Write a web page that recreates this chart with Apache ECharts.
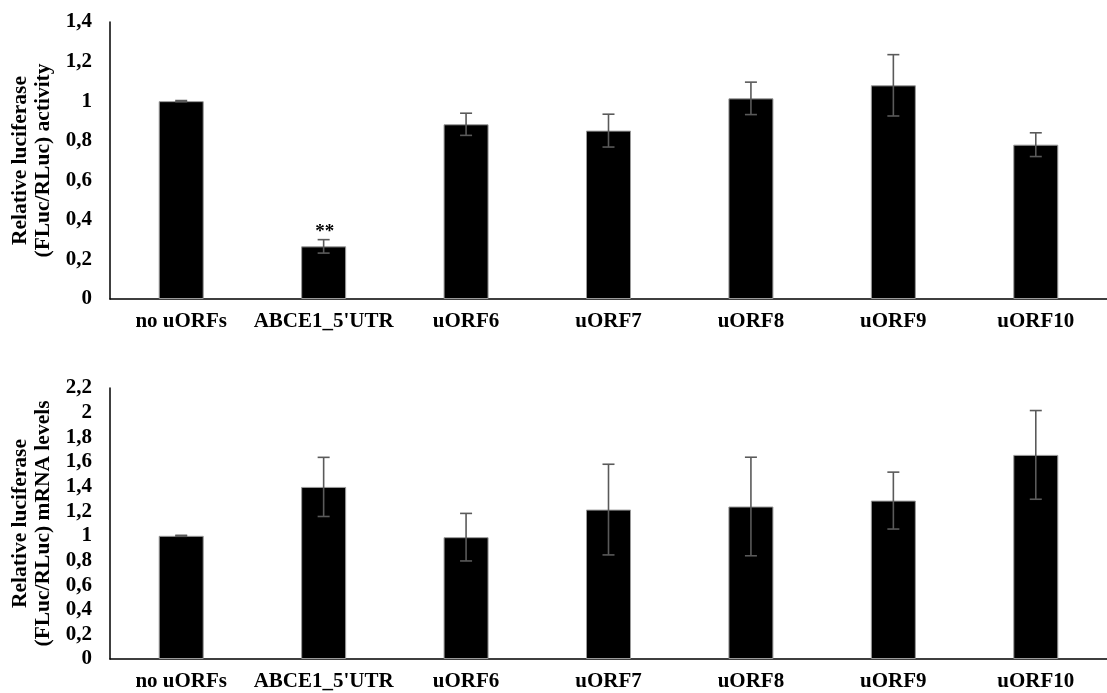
<!DOCTYPE html>
<html>
<head>
<meta charset="utf-8">
<script src="https://cdn.jsdelivr.net/npm/echarts@6/dist/echarts.min.js"></script>
<style>
html,body{margin:0;padding:0;background:#fff;}
#c{width:1107px;height:693px;}
</style>
</head>
<body>
<div id="c"></div>
<script>
var categories = ['no uORFs', "ABCE1_5'UTR", 'uORF6', 'uORF7', 'uORF8', 'uORF9', 'uORF10'];
var activity = [1.0, 0.266, 0.883, 0.851, 1.014, 1.080, 0.780];
var activityErr = [0.003, 0.034, 0.056, 0.083, 0.082, 0.155, 0.060];
var activitySig = ['', '**', '', '', '', '', ''];
var mrna = [1.0, 1.397, 0.989, 1.213, 1.238, 1.286, 1.657];
var mrnaErr = [0.004, 0.240, 0.193, 0.368, 0.400, 0.231, 0.360];
var mrnaSig = ['', '', '', '', '', '', ''];
var topTitle = 'Relative luciferase\n(FLuc/RLuc) activity';
var bottomTitle = 'Relative luciferase\n(FLuc/RLuc) mRNA levels';

var FONT = '"Liberation Serif", "Times New Roman", serif';

function errData(vals, errs, sig) {
  return vals.map(function (v, i) { return [i, v - errs[i], v + errs[i], sig[i]]; });
}

function errRender(params, api) {
  var x = api.value(0);
  var lo = api.coord([x, api.value(1)]);
  var hi = api.coord([x, api.value(2)]);
  var half = 6;
  var style = { stroke: '#5a5a5a', lineWidth: 1.6 };
  var children = [
    { type: 'line', shape: { x1: lo[0], y1: lo[1], x2: hi[0], y2: hi[1] }, style: style },
    { type: 'line', shape: { x1: hi[0] - half, y1: hi[1], x2: hi[0] + half, y2: hi[1] }, style: style },
    { type: 'line', shape: { x1: lo[0] - half, y1: lo[1], x2: lo[0] + half, y2: lo[1] }, style: style }
  ];
  var s = api.value(3);
  if (s) {
    children.push({
      type: 'text',
      style: { text: s, x: hi[0] + 1, y: hi[1] + 2, align: 'center', verticalAlign: 'bottom',
               font: 'bold 19px ' + FONT, fill: '#000' }
    });
  }
  return { type: 'group', children: children };
}

function fmt(v) { return String(Math.round(v * 10) / 10).replace('.', ','); }

function xAxisCfg(gi) {
  return {
    type: 'category', gridIndex: gi, data: categories,
    axisLine: { lineStyle: { color: '#000', width: 1.5 } },
    axisTick: { show: false },
    axisLabel: { color: '#000', fontFamily: FONT, fontWeight: 'bold', fontSize: 21, margin: 12, interval: 0 }
  };
}
function yAxisCfg(gi, max, name) {
  return {
    type: 'value', gridIndex: gi, min: 0, max: max, interval: 0.2,
    name: name, nameLocation: 'middle', nameGap: 53, nameRotate: 90,
    nameTextStyle: { color: '#000', fontFamily: FONT, fontWeight: 'bold', fontSize: 21.5, lineHeight: 23 },
    axisLine: { show: true, lineStyle: { color: '#000', width: 1.5 } },
    axisTick: { show: false },
    splitLine: { show: false },
    axisLabel: { color: '#000', fontFamily: FONT, fontWeight: 'bold', fontSize: 21, margin: 18, formatter: fmt }
  };
}

var chart = echarts.init(document.getElementById('c'), null, { renderer: 'canvas' });
chart.setOption({
  animation: false,
  backgroundColor: '#fff',
  grid: [
    { left: 110, right: -12, top: 22, bottom: 394, containLabel: false },
    { left: 110, right: -12, top: 388, bottom: 34, containLabel: false }
  ],
  xAxis: [xAxisCfg(0), xAxisCfg(1)],
  yAxis: [yAxisCfg(0, 1.4, topTitle), yAxisCfg(1, 2.2, bottomTitle)],
  series: [
    { type: 'bar', xAxisIndex: 0, yAxisIndex: 0, data: activity, barWidth: 45,
      itemStyle: { color: '#000', borderColor: '#9a9a9a', borderWidth: 1 } },
    { type: 'custom', xAxisIndex: 0, yAxisIndex: 0, data: errData(activity, activityErr, activitySig),
      renderItem: errRender, z: 5 },
    { type: 'bar', xAxisIndex: 1, yAxisIndex: 1, data: mrna, barWidth: 45,
      itemStyle: { color: '#000', borderColor: '#9a9a9a', borderWidth: 1 } },
    { type: 'custom', xAxisIndex: 1, yAxisIndex: 1, data: errData(mrna, mrnaErr, mrnaSig),
      renderItem: errRender, z: 5 }
  ]
});
</script>
</body>
</html>
